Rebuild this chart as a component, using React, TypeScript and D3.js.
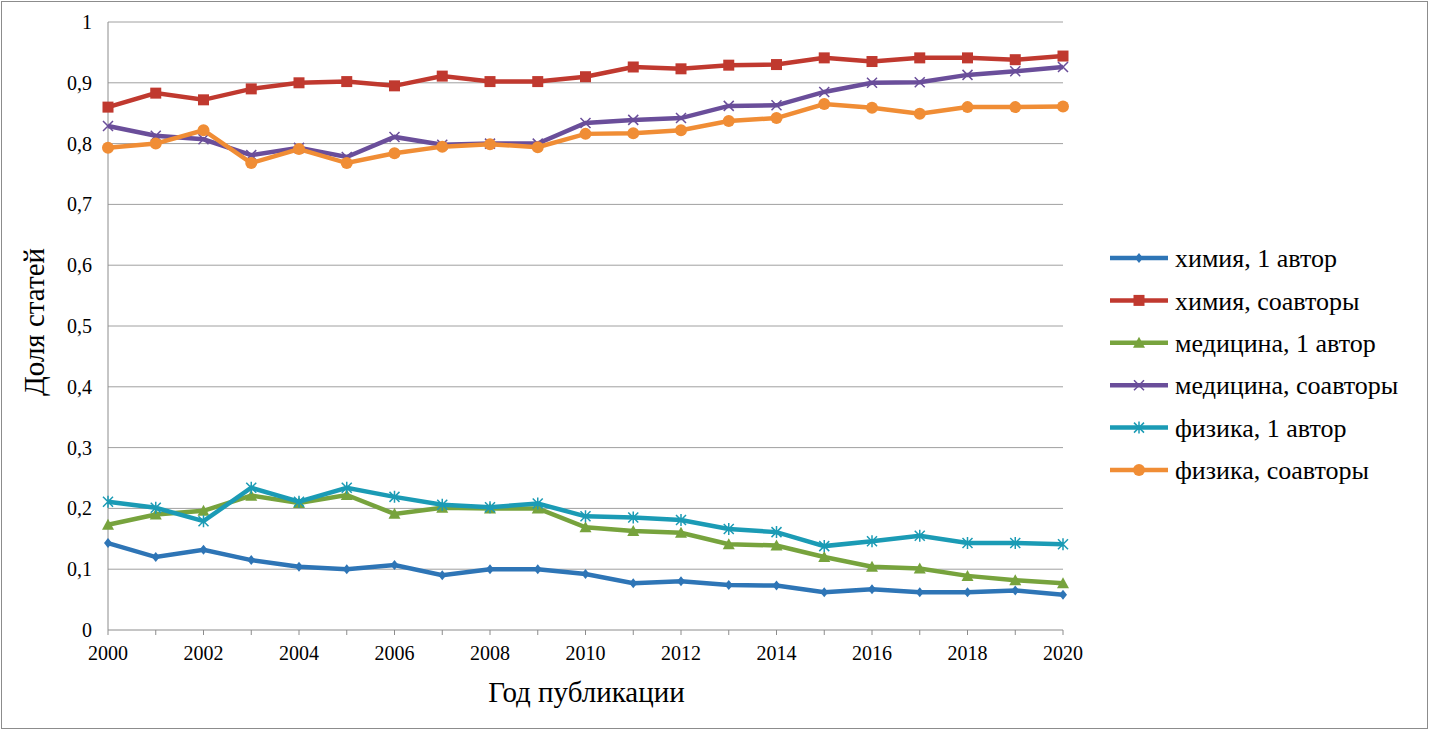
import React from 'react'
import * as d3 from 'd3'

const years = d3.range(2000, 2021)
const chem1 = [.143, .120, .132, .115, .104, .100, .107, .090, .100, .100, .092, .077, .080, .074, .073, .062, .067, .062, .062, .065, .058]
const chemCo = [.860, .883, .872, .890, .900, .902, .895, .911, .902, .902, .910, .926, .923, .929, .930, .941, .935, .941, .941, .938, .944]
const med1 = [.173, .190, .196, .221, .209, .222, .191, .201, .200, .200, .169, .163, .160, .141, .139, .120, .104, .101, .089, .082, .077]
const medCo = [.829, .813, .807, .781, .793, .778, .811, .798, .800, .800, .834, .839, .842, .862, .863, .885, .900, .901, .913, .919, .926]
const phys1 = [.211, .201, .179, .234, .211, .234, .219, .206, .202, .208, .187, .185, .181, .166, .161, .138, .146, .155, .143, .143, .141]
const physCo = [.793, .800, .822, .768, .791, .768, .784, .795, .799, .794, .816, .817, .822, .837, .842, .865, .859, .849, .860, .860, .861]

const series = [
  { name: 'химия, 1 автор', values: chem1, color: '#2e75b6', marker: 'diamond' },
  { name: 'химия, соавторы', values: chemCo, color: '#c0392f', marker: 'square' },
  { name: 'медицина, 1 автор', values: med1, color: '#77a33d', marker: 'triangle' },
  { name: 'медицина, соавторы', values: medCo, color: '#6a4e9a', marker: 'x' },
  { name: 'физика, 1 автор', values: phys1, color: '#1b9bb5', marker: 'star' },
  { name: 'физика, соавторы', values: physCo, color: '#f08d35', marker: 'circle' },
]
const yTicks = d3.range(0, 11).map((d) => d / 10)
const xTicks = d3.range(2000, 2021, 2)

const font = '"Liberation Serif", "Times New Roman", serif'

function Marker({ type, x, y, color }: { type: string; x: number; y: number; color: string }) {
  switch (type) {
    case 'diamond':
      return <path d={`M${x},${y - 5}L${x + 4},${y}L${x},${y + 5}L${x - 4},${y}Z`} fill={color} />
    case 'square':
      return <rect x={x - 5.5} y={y - 5.5} width={11} height={11} fill={color} />
    case 'triangle':
      return <path d={`M${x},${y - 6}L${x + 6},${y + 5}L${x - 6},${y + 5}Z`} fill={color} />
    case 'x':
      return <path d={`M${x - 5},${y - 5}L${x + 5},${y + 5}M${x - 5},${y + 5}L${x + 5},${y - 5}`} stroke={color} strokeWidth={1.5} />
    case 'star':
      return <path d={`M${x - 5},${y - 5}L${x + 5},${y + 5}M${x - 5},${y + 5}L${x + 5},${y - 5}M${x},${y - 6}L${x},${y + 6}`} stroke={color} strokeWidth={1.5} />
    default:
      return <circle cx={x} cy={y} r={6} fill={color} />
  }
}

export default function App() {
  const W = 1429, H = 730
  const m = { left: 108, right: 1063, top: 22, bottom: 630 }
  const x = d3.scaleLinear().domain([2000, 2020]).range([m.left, m.right])
  const y = d3.scaleLinear().domain([0, 1]).range([m.bottom, m.top])
  const line = d3.line<number>().x((_, i) => x(years[i])).y((d) => y(d))
  const fmt = (d: number) => (d === 0 || d === 1 ? String(d) : d.toFixed(1).replace('.', ','))

  return (
    <svg width={W} height={H} style={{ position: 'absolute', left: 0, top: 0, background: '#fff' }} fontFamily={font}>
      <rect x={1.5} y={1.5} width={W - 3} height={H - 3} fill="#fff" stroke="#8c8c8c" />
      {yTicks.map((t) => (
        <g key={t}>
          {t > 0 && <line x1={m.left} x2={m.right} y1={y(t)} y2={y(t)} stroke="#a0a0a0" />}
          <text x={m.left - 16} y={y(t)} dy="0.35em" textAnchor="end" fontSize={20}>{fmt(t)}</text>
        </g>
      ))}
      <line x1={m.left} x2={m.left} y1={m.top} y2={m.bottom} stroke="#8c8c8c" />
      <line x1={m.left} x2={m.right} y1={m.bottom} y2={m.bottom} stroke="#8c8c8c" />
      {years.map((yr) => (
        <line key={yr} x1={x(yr)} x2={x(yr)} y1={m.bottom} y2={m.bottom + 5} stroke="#8c8c8c" />
      ))}
      {xTicks.map((t) => (
        <text key={t} x={x(t)} y={m.bottom + 30} textAnchor="middle" fontSize={20}>{t}</text>
      ))}
      <text x={(m.left + m.right) / 2 + 1} y={702} textAnchor="middle" fontSize={29}>Год публикации</text>
      <text transform={`translate(44,${(m.top + m.bottom) / 2 - 4}) rotate(-90)`} textAnchor="middle" fontSize={29}>Доля статей</text>
      {series.map((s) => (
        <g key={s.name}>
          <path d={line(s.values) ?? ''} fill="none" stroke={s.color} strokeWidth={4.5} />
          {s.values.map((v, i) => (
            <Marker key={i} type={s.marker} x={x(years[i])} y={y(v)} color={s.color} />
          ))}
        </g>
      ))}
      {series.map((s, i) => {
        const ly = 258 + i * 42.4
        return (
          <g key={s.name}>
            <line x1={1110} x2={1168} y1={ly} y2={ly} stroke={s.color} strokeWidth={4.5} />
            <Marker type={s.marker} x={1139} y={ly} color={s.color} />
            <text x={1175} y={ly} dy="0.35em" fontSize={26}>{s.name}</text>
          </g>
        )
      })}
    </svg>
  )
}
